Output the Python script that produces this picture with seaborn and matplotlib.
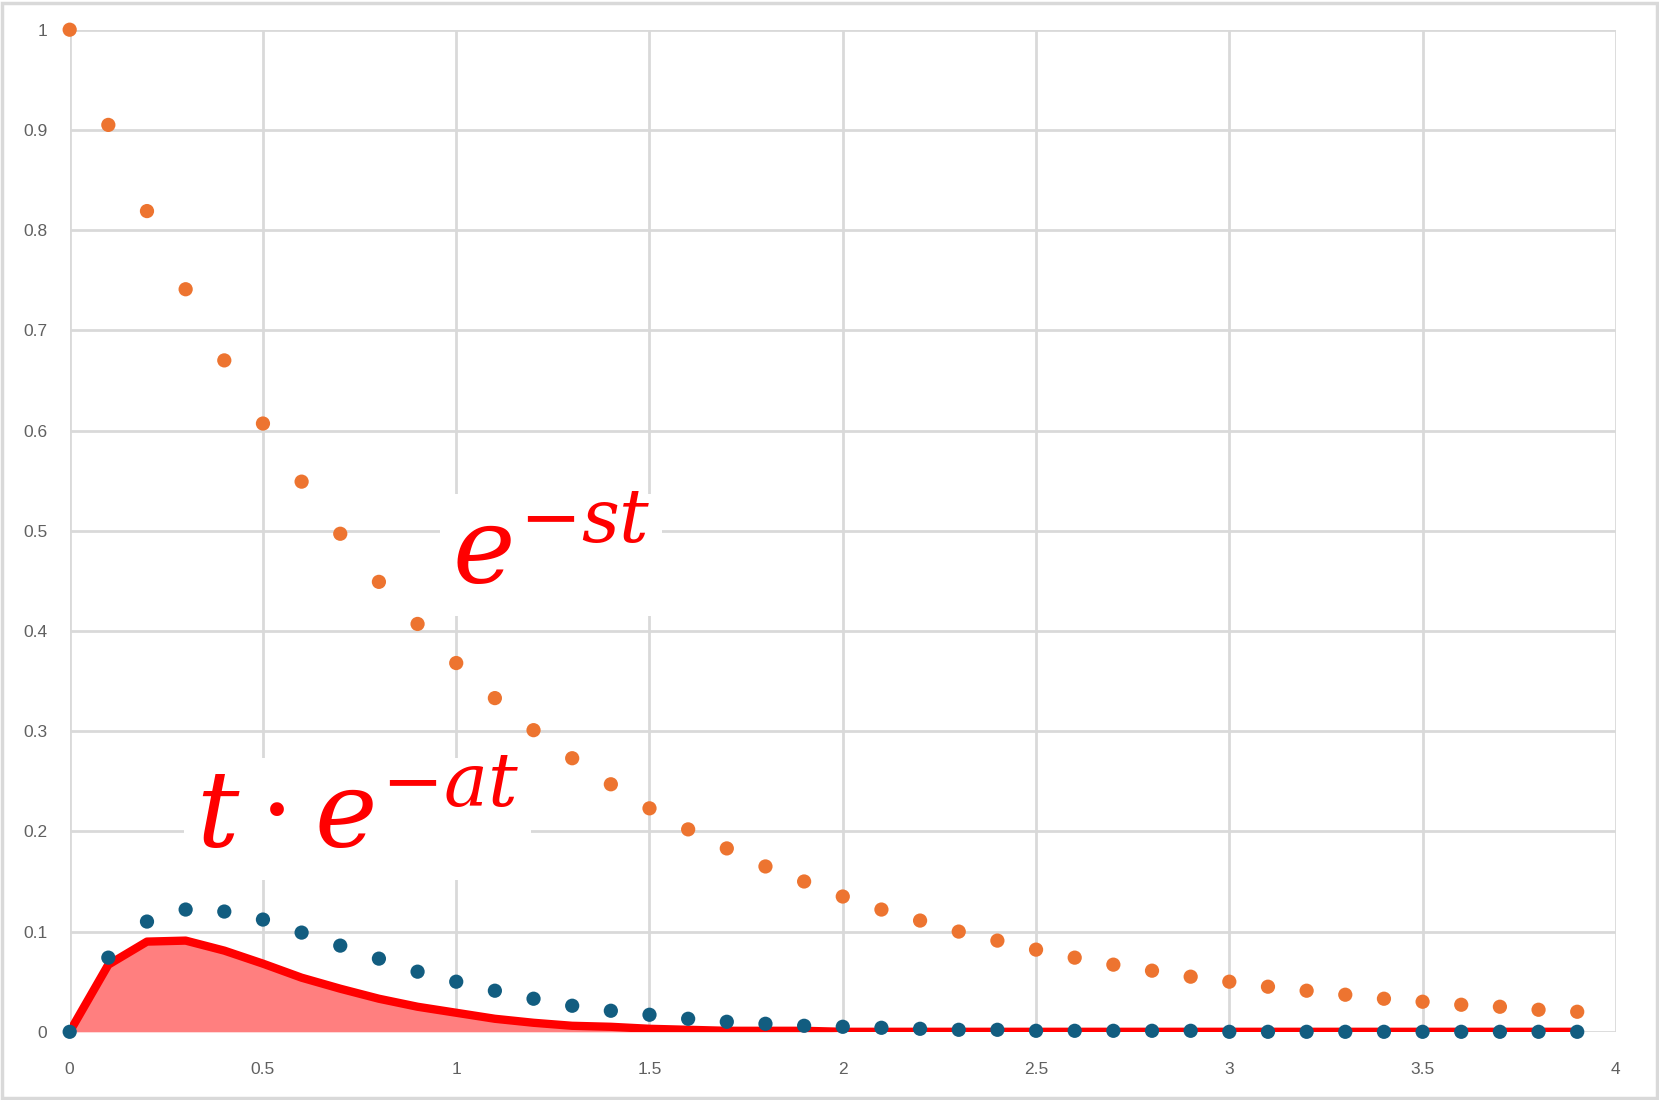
import matplotlib
matplotlib.use("Agg")
import matplotlib.pyplot as plt
import seaborn as sns
import pandas as pd
from matplotlib.patches import Rectangle

# sample times
t = [0.0, 0.1, 0.2, 0.3, 0.4, 0.5, 0.6, 0.7, 0.8, 0.9,
     1.0, 1.1, 1.2, 1.3, 1.4, 1.5, 1.6, 1.7, 1.8, 1.9,
     2.0, 2.1, 2.2, 2.3, 2.4, 2.5, 2.6, 2.7, 2.8, 2.9,
     3.0, 3.1, 3.2, 3.3, 3.4, 3.5, 3.6, 3.7, 3.8, 3.9]

# e^{-st} (orange dots)
e_st = [1.0, 0.905, 0.819, 0.741, 0.670, 0.607, 0.549, 0.497, 0.449, 0.407,
        0.368, 0.333, 0.301, 0.273, 0.247, 0.223, 0.202, 0.183, 0.165, 0.150,
        0.135, 0.122, 0.111, 0.100, 0.091, 0.082, 0.074, 0.067, 0.061, 0.055,
        0.050, 0.045, 0.041, 0.037, 0.033, 0.030, 0.027, 0.025, 0.022, 0.020]

# t*e^{-at} (blue dots)
t_e_at = [0.0, 0.074, 0.110, 0.122, 0.120, 0.112, 0.099, 0.086, 0.073, 0.060,
          0.050, 0.041, 0.033, 0.026, 0.021, 0.017, 0.013, 0.010, 0.008, 0.006,
          0.005, 0.004, 0.003, 0.002, 0.002, 0.001, 0.001, 0.001, 0.001, 0.001,
          0.0, 0.0, 0.0, 0.0, 0.0, 0.0, 0.0, 0.0, 0.0, 0.0]

# product (red line + fill)
product = [0.0, 0.067, 0.090, 0.091, 0.081, 0.068, 0.054, 0.043, 0.033, 0.025,
           0.019, 0.013, 0.009, 0.006, 0.005, 0.003, 0.002, 0.001, 0.001, 0.001,
           0.0, 0.0, 0.0, 0.0, 0.0, 0.0, 0.0, 0.0, 0.0, 0.0,
           0.0, 0.0, 0.0, 0.0, 0.0, 0.0, 0.0, 0.0, 0.0, 0.0]

x_ticks = [0, 0.5, 1, 1.5, 2, 2.5, 3, 3.5, 4]
x_labels = ["0", "0.5", "1", "1.5", "2", "2.5", "3", "3.5", "4"]
y_ticks = [0, 0.1, 0.2, 0.3, 0.4, 0.5, 0.6, 0.7, 0.8, 0.9, 1]
y_labels = ["0", "0.1", "0.2", "0.3", "0.4", "0.5", "0.6", "0.7", "0.8", "0.9", "1"]

df = pd.DataFrame({"t": t, "e_st": e_st, "t_e_at": t_e_at, "product": product})

sns.set_style("white")
plt.rcParams["font.family"] = ["Liberation Sans", "DejaVu Sans"]
plt.rcParams["mathtext.fontset"] = "dejavuserif"

fig = plt.figure(figsize=(16.59, 11.0), dpi=100)
ax = fig.add_axes([0.042, 0.062, 0.932, 0.911])

fig.patches.append(Rectangle((0.0015, 0.002), 0.997, 0.995, transform=fig.transFigure,
                             fill=False, edgecolor="#d9d9d9", linewidth=2.5))

ax.fill_between(df["t"], df["product"], 0, color="#ff7f7f", linewidth=0, zorder=2)
sns.lineplot(data=df, x="t", y="product", color="#ff0000", linewidth=6, ax=ax, zorder=3)
sns.scatterplot(data=df, x="t", y="t_e_at", color="#125d80", s=105, marker="o",
                edgecolor="none", ax=ax, zorder=4, clip_on=False)
sns.scatterplot(data=df, x="t", y="e_st", color="#ed7430", s=105, marker="o",
                edgecolor="none", ax=ax, zorder=4, clip_on=False)

ax.set_xlim(0, 4)
ax.set_ylim(0, 1)
ax.set_xticks(x_ticks)
ax.set_xticklabels(x_labels)
ax.set_yticks(y_ticks)
ax.set_yticklabels(y_labels)
ax.tick_params(axis="both", length=0, labelsize=12.5, labelcolor="#606060")
ax.tick_params(axis="x", pad=22)
ax.tick_params(axis="y", pad=16)
ax.grid(True, color="#d9d9d9", linewidth=2)
ax.set_axisbelow(True)
for s in ax.spines.values():
    s.set_visible(False)
ax.set_xlabel("")
ax.set_ylabel("")

box = dict(facecolor="white", edgecolor="none", pad=8)
ax.text(1.245, 0.476, r"$e^{-st}$", color="#ff0000", fontsize=76,
        ha="center", va="center", bbox=box, zorder=5)
ax.text(0.745, 0.212, r"$t\cdot e^{-at}$", color="#ff0000", fontsize=76,
        ha="center", va="center", bbox=box, zorder=5)

fig.savefig("out.png", dpi=100)
